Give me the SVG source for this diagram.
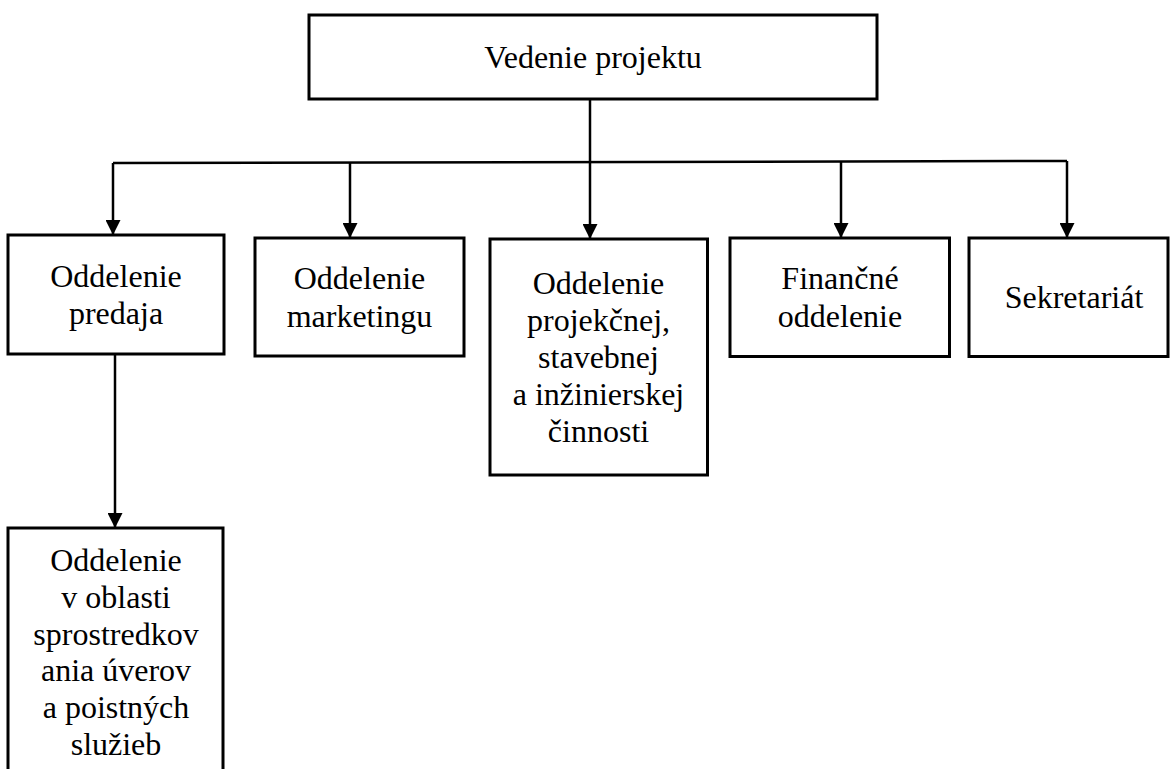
<svg xmlns="http://www.w3.org/2000/svg" width="1170" height="769" viewBox="0 0 1170 769">
<style>
.box{fill:#fff;stroke:#000;stroke-width:3}
.lbl{font-family:'Liberation Serif','Times New Roman',Times,'DejaVu Serif',serif;font-size:32px;fill:#000;text-anchor:middle}
.con{fill:none;stroke:#000;stroke-width:2.5}
</style>
<defs>
<marker id="arr" markerUnits="userSpaceOnUse" markerWidth="15" markerHeight="15" refX="15" refY="7.5" orient="auto" viewBox="0 0 15 15">
<path d="M0,0 L15,7.5 L0,15 z" fill="#000"/>
</marker>
</defs>
<rect width="1170" height="769" fill="#fff"/>
<g id="connectors">
<line class="con" x1="590" y1="99" x2="590" y2="239" marker-end="url(#arr)"/>
<line class="con" x1="113" y1="163" x2="1067" y2="161"/>
<line class="con" x1="113" y1="163" x2="113" y2="235" marker-end="url(#arr)"/>
<line class="con" x1="350" y1="162.5" x2="350" y2="238" marker-end="url(#arr)"/>
<line class="con" x1="841" y1="161.5" x2="841" y2="238" marker-end="url(#arr)"/>
<line class="con" x1="1067" y1="161" x2="1067" y2="238" marker-end="url(#arr)"/>
<line class="con" x1="115" y1="354" x2="115" y2="528" marker-end="url(#arr)"/>
</g>
<g id="vedenie">
<rect class="box" x="309" y="15" width="568" height="84"/>
<text class="lbl" x="593" y="68" font-family="Liberation Serif, serif">Vedenie projektu</text>
</g>
<g id="predaj">
<rect class="box" x="8" y="235" width="216" height="119"/>
<text class="lbl" x="116" y="287">Oddelenie</text>
<text class="lbl" x="116" y="324">predaja</text>
</g>
<g id="marketing">
<rect class="box" x="255" y="238" width="209" height="118"/>
<text class="lbl" x="359.5" y="289">Oddelenie</text>
<text class="lbl" x="359.5" y="327">marketingu</text>
</g>
<g id="projekcna">
<rect class="box" x="490" y="239" width="217.5" height="236"/>
<text class="lbl" x="598.5" y="294">Oddelenie</text>
<text class="lbl" x="598.5" y="331">projekčnej,</text>
<text class="lbl" x="598.5" y="368">stavebnej</text>
<text class="lbl" x="598.5" y="405">a inžinierskej</text>
<text class="lbl" x="598.5" y="442">činnosti</text>
</g>
<g id="financne">
<rect class="box" x="730" y="238" width="219.5" height="118.5"/>
<text class="lbl" x="840" y="289">Finančné</text>
<text class="lbl" x="840" y="327">oddelenie</text>
</g>
<g id="sekretariat">
<rect class="box" x="969" y="238" width="199" height="118.5"/>
<text class="lbl" x="1074" y="308">Sekretariát</text>
</g>
<g id="uvery">
<rect class="box" x="8" y="528" width="215" height="270"/>
<text class="lbl" x="116" y="571">Oddelenie</text>
<text class="lbl" x="116" y="608">v oblasti</text>
<text class="lbl" x="116" y="644.5">sprostredkov</text>
<text class="lbl" x="116" y="681">ania úverov</text>
<text class="lbl" x="116" y="718">a poistných</text>
<text class="lbl" x="116" y="755">služieb</text>
</g>
</svg>
